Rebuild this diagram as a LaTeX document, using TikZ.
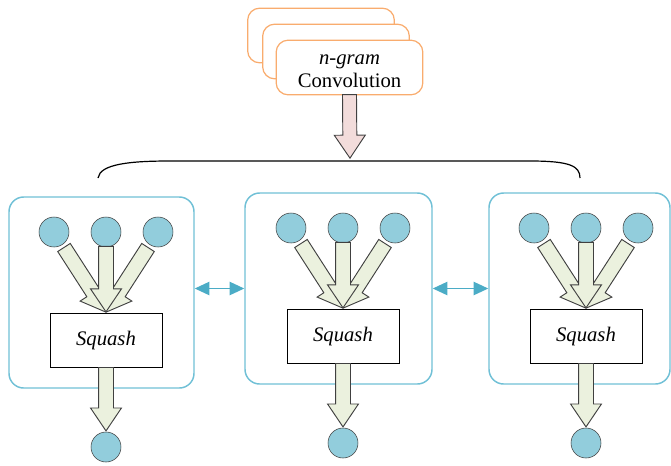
\documentclass[tikz,border=0pt]{standalone}
\usepackage{fontspec}
\setmainfont{Liberation Serif}
\usetikzlibrary{arrows.meta,positioning,shapes.arrows,calc}
\definecolor{grpline}{RGB}{112,192,214}
\definecolor{dotfill}{RGB}{146,205,220}
\definecolor{blkfill}{RGB}{235,241,222}
\definecolor{pinkfill}{RGB}{242,220,219}
\definecolor{convline}{RGB}{249,172,110}
\definecolor{linkcol}{RGB}{75,172,198}

% block arrow from #2 (tail) to #3 (tip)
\newcommand\blkarrow[3][blk]{%
  \path let \p1=($(#3)-(#2)$), \n1={atan2(\y1,\x1)}, \n2={veclen(\x1,\y1)} in
    node[#1, rotate=\n1, minimum height=\n2, anchor=tip] at (#3) {};}

\begin{document}
\begin{tikzpicture}[x=0.75pt, y=-0.75pt, font=\fontsize{15.5}{17}\selectfont,
  conv/.style={draw=convline, line width=0.9pt, rounded corners=9pt, fill=white,
    minimum width=110pt, minimum height=41pt},
  grp/.style={draw=grpline, line width=1.1pt, rounded corners=11pt,
    minimum height=143.25pt},
  dot/.style={circle, draw=black!75, fill=dotfill, minimum size=22.5pt, inner sep=0pt},
  sq/.style={draw, fill=white, line width=0.75pt, minimum width=84pt, minimum height=41pt},
  blk/.style={single arrow, draw=black!75, fill=blkfill, line width=0.7pt,
    inner xsep=0pt, inner ysep=5.25pt, single arrow head extend=6pt,
    single arrow tip angle=68},
  pinkarr/.style={blk, fill=pinkfill, inner ysep=4.9pt, single arrow head extend=6.4pt},
  link/.style={draw=linkcol, line width=1.1pt, {Triangle[length=11pt,width=10pt]}-{Triangle[length=11pt,width=10pt]}}]
\useasboundingbox (0,0) rectangle (671,465);

% stacked n-gram convolution boxes
\node[conv] (cv3) at (321,35.5) {};
\node[conv] (cv2) at (336,51.5) {};
\node[conv] (cv1) at (349.5,67.5) {};
\node[align=center] (cvtxt) at ($(cv1.center)+(0,4)$) {\textit{n-gram}\\Convolution};
\coordinate (brtip) at (350,159);
\blkarrow[pinkarr]{cv1.south}{brtip}

% brace over the three groups
\draw[line width=0.9pt] (98,178) .. controls (100,164) and (130,161) .. (170,161)
  -- (530,161) .. controls (570,161) and (580,166) .. (580,178);

% three capsule groups
\foreach \i/\cx/\dy/\wl/\wr in {1/106/4/97/88, 2/343/0/98/89, 3/586/0/97/84} {
  \node[grp, minimum width={(\wl+\wr)*0.75pt}] (b\i) at ({\cx+(\wr-\wl)/2},{288.5+\dy}) {};
  \node[dot] (a\i) at ({\cx-52},{228+\dy}) {};
  \node[dot] (m\i) at (\cx,{228+\dy}) {};
  \node[dot] (c\i) at ({\cx+52},{228+\dy}) {};
  \node[sq] (s\i) at (\cx,{336.5+\dy}) {\textit{Squash}};
  \node[dot] (o\i) at (\cx,{443+\dy}) {};
  \blkarrow{$(a\i.center)!0.2!(s\i.north)$}{s\i.north}
  \blkarrow{$(c\i.center)!0.2!(s\i.north)$}{s\i.north}
  \blkarrow{m\i.south}{s\i.north}
  \blkarrow{s\i.south}{o\i.north}
}

% links between neighbouring groups
\draw[link] (b1.east |- b2.west) -- (b2.west);
\draw[link] (b2.east) -- (b3.west);
\end{tikzpicture}
\end{document}
